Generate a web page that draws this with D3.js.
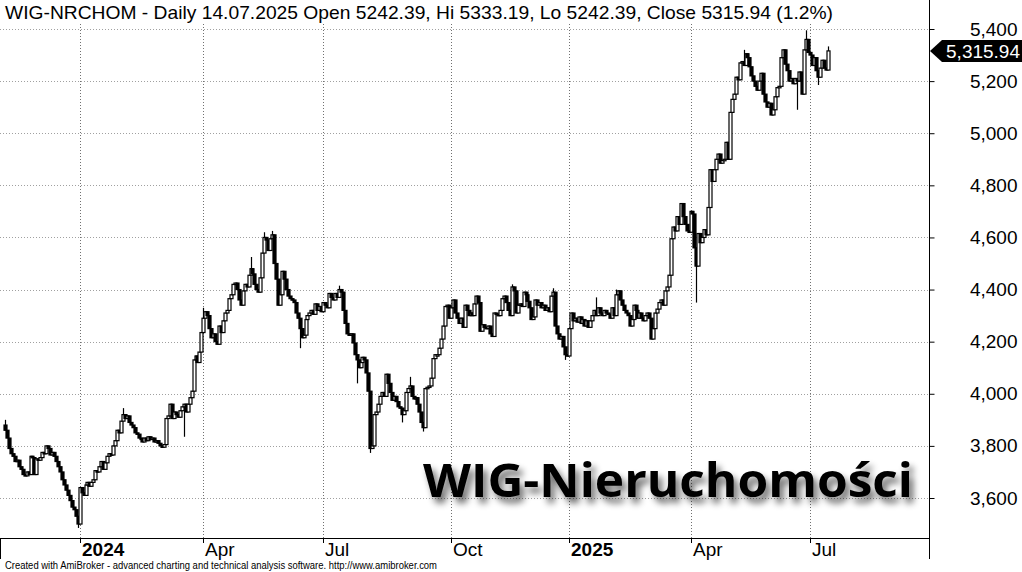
<!DOCTYPE html>
<html>
<head>
<meta charset="utf-8">
<script src="https://cdn.jsdelivr.net/npm/d3@7"></script>
<style>
  body { margin: 0; background: #fff; }
  svg { display: block; font-family: "Liberation Sans", Arial, sans-serif; }
</style>
</head>
<body>
<svg width="1022" height="572"></svg>
<script>
// daily closes, 06.11.2023 - 14.07.2025
var closes = [
  3860, 3830, 3790, 3770, 3760, 3740, 3745, 3720, 3710, 3690,
  3685, 3700, 3690, 3760, 3755, 3690, 3750, 3745, 3755, 3775,
  3770, 3800, 3790, 3765, 3775, 3760, 3740, 3720, 3700, 3670,
  3650, 3630, 3610, 3590, 3565, 3555, 3530, 3500, 3640,
  3620, 3610, 3650, 3660, 3645, 3660, 3670, 3705, 3700, 3720,
  3740, 3710, 3735, 3760, 3770, 3765, 3800, 3820, 3860, 3850,
  3895, 3920, 3905, 3915, 3890, 3880, 3870, 3850, 3845, 3830,
  3825, 3815, 3830, 3820, 3835, 3825, 3830, 3815, 3820, 3810,
  3800, 3795, 3805, 3905, 3915, 3960, 3905, 3930, 3920, 3910,
  3935, 3950, 3960, 3930, 3960, 3985, 4010, 4130, 4145, 4120,
  4160, 4235, 4290, 4315, 4300, 4250, 4215, 4230, 4200, 4190,
  4260, 4235, 4280, 4310, 4320, 4365, 4380, 4420, 4425, 4400,
  4360, 4340, 4395, 4420, 4410, 4455, 4480, 4460, 4420, 4400,
  4390, 4445, 4540, 4600, 4590, 4550, 4595, 4610, 4500, 4440,
  4340, 4380, 4470, 4440, 4400, 4375, 4365, 4360, 4350, 4310,
  4290, 4250, 4215, 4225, 4285, 4300, 4310, 4320, 4305, 4345,
  4320, 4335, 4315, 4350, 4340, 4330, 4385, 4370, 4360, 4385,
  4370, 4400, 4390, 4320, 4270, 4230, 4225, 4230, 4195, 4150,
  4130, 4100, 4120, 4140, 4130, 4080, 4010, 3790, 3800, 3920,
  3930, 3960, 3990, 4005, 3990, 4075, 4040, 4005, 3975, 3990,
  3970, 3950, 3945, 3920, 3935, 4005, 4020, 4030, 3990, 3980,
  3985, 3960, 3930, 3890, 3870, 4020, 4025, 4030, 4060, 4135,
  4150, 4150, 4175, 4210, 4260, 4335, 4340, 4290, 4330, 4360,
  4310, 4290, 4270, 4290, 4255, 4340, 4320, 4300, 4310, 4300,
  4345, 4375, 4350, 4240, 4265, 4255, 4250, 4260, 4230, 4220,
  4310, 4305, 4300, 4320, 4365, 4375, 4350, 4320, 4300, 4410,
  4395, 4310, 4340, 4345, 4335, 4390, 4380, 4355, 4330, 4285,
  4295, 4360, 4340, 4350, 4330, 4340, 4320, 4330, 4315, 4375,
  4390, 4260, 4230, 4210, 4220, 4180, 4150, 4145, 4250, 4310,
  4280, 4290, 4275, 4295, 4270, 4285, 4260, 4280, 4255, 4280,
  4300, 4320, 4300, 4330, 4310, 4300, 4320, 4310, 4305, 4290,
  4330, 4300, 4380, 4395, 4360, 4340, 4320, 4310, 4300, 4260,
  4285, 4340, 4320, 4290, 4310, 4290, 4280, 4300, 4310, 4290,
  4210, 4250, 4310, 4325, 4350, 4360, 4340, 4395, 4410, 4455,
  4595, 4640, 4625, 4680, 4650, 4730, 4680, 4650, 4625, 4620,
  4700, 4690, 4560, 4490, 4615, 4580, 4600, 4630, 4610, 4715,
  4860, 4815, 4860, 4900, 4920, 4885, 4895, 4900, 4965, 4900,
  5080, 5130, 5150, 5215, 5205, 5270, 5275, 5260, 5305, 5290,
  5255, 5220, 5200, 5180, 5165, 5200, 5230, 5150, 5120, 5100,
  5115, 5070, 5090, 5140, 5175, 5180, 5290, 5320, 5265, 5240,
  5200, 5210, 5190, 5210, 5200, 5235, 5200, 5150, 5320, 5360,
  5310, 5300, 5260, 5290, 5240, 5215, 5250, 5280, 5250, 5242.39,
  5315.94
];
var firstOpen = 3880;

// longer wicks: [day index, high, low]
var wicks = [
  [0, 3900, null], [37, null, 3485], [60, 3945, null], [91, null, 3835],
  [101, 4330, null], [125, 4525, null], [132, 4620, null], [136, 4625, null],
  [150, null, 4175], [170, 4415, null], [179, null, 4040], [186, null, 3773],
  [202, null, 3890], [206, 4065, null], [213, null, 3855], [258, 4420, null],
  [279, 4405, null], [285, null, 4130], [301, 4370, null], [311, 4400, null],
  [352, 4530, 4350], [376, 5320, null], [403, null, 5090], [408, 5395, null],
  [414, null, 5185], [419, 5333.19, 5242.39]
];

var holidays = [
  "2023-11-01", "2023-12-25", "2023-12-26",
  "2024-01-01", "2024-03-29", "2024-04-01", "2024-05-01", "2024-05-03",
  "2024-05-30", "2024-08-15", "2024-11-01", "2024-11-11", "2024-12-24",
  "2024-12-25", "2024-12-26", "2024-12-31",
  "2025-01-01", "2025-01-06", "2025-04-18", "2025-04-21", "2025-05-01",
  "2025-06-19"
];

var priceTicks = [3600, 3800, 4000, 4200, 4400, 4600, 4800, 5000, 5200, 5400];
var quarterLabels = {0: "", 3: "Apr", 6: "Jul", 9: "Oct"};

var title = "WIG-NRCHOM - Daily 14.07.2025 Open 5242.39, Hi 5333.19, Lo 5242.39, Close 5315.94 (1.2%)";

// trading days
var fmt = d3.timeFormat("%Y-%m-%d");
var dates = d3.timeDay.range(new Date(2023, 10, 6), new Date(2025, 6, 15))
    .filter(d => d.getDay() != 0 && d.getDay() != 6 && holidays.indexOf(fmt(d)) < 0);
dates = dates.slice(dates.length - closes.length);

var candles = closes.map((c, i) => {
    var o = i == 0 ? firstOpen : closes[i - 1];
    return {i: i, date: dates[i], o: o, c: c, h: Math.max(o, c), l: Math.min(o, c)};
});
wicks.forEach(w => {
    var d = candles[w[0]];
    if (w[1] != null) d.h = Math.max(d.h, w[1]);
    if (w[2] != null) d.l = Math.min(d.l, w[2]);
});

var x = d3.scaleLinear().domain([0, closes.length - 1]).range([5, 828]);
var y = d3.scaleLinear().domain([3600, 5400]).range([498, 29]);

var svg = d3.select("svg");

var defs = svg.append("defs");
var f = defs.append("filter").attr("id", "shadow")
    .attr("x", "-10%").attr("y", "-30%").attr("width", "120%").attr("height", "170%");
f.append("feGaussianBlur").attr("in", "SourceAlpha").attr("stdDeviation", 3.5).attr("result", "b");
f.append("feOffset").attr("in", "b").attr("dx", 4).attr("dy", 6).attr("result", "o");
f.append("feComponentTransfer").attr("in", "o").attr("result", "s")
  .append("feFuncA").attr("type", "linear").attr("slope", 0.6);
var m = f.append("feMerge");
m.append("feMergeNode").attr("in", "s");
m.append("feMergeNode").attr("in", "SourceGraphic");

// grid
svg.append("g").selectAll("line").data(priceTicks).join("line")
    .attr("x1", 0).attr("x2", 929)
    .attr("y1", d => Math.round(y(d)) + 0.5).attr("y2", d => Math.round(y(d)) + 0.5)
    .attr("stroke", "#a0a0a0").attr("stroke-dasharray", "1,2");

var quarters = candles.filter((d, i) => i > 0 && d.date.getMonth() != candles[i - 1].date.getMonth()
    && d.date.getMonth() % 3 == 0);

svg.append("g").selectAll("line").data(quarters).join("line")
    .attr("x1", d => Math.round(x(d.i)) + 0.5).attr("x2", d => Math.round(x(d.i)) + 0.5)
    .attr("y1", 24).attr("y2", 538)
    .attr("stroke", "#707070").attr("stroke-dasharray", "1,2");

// watermark
svg.append("text")
    .attr("x", 423).attr("y", 497)
    .attr("font-family", "'Open Sans', 'Noto Sans', sans-serif")
    .attr("font-weight", 700).attr("font-size", 46)
    .attr("textLength", 490).attr("lengthAdjust", "spacingAndGlyphs")
    .attr("filter", "url(#shadow)")
    .text("WIG-Nieruchomości");

// candles
var g = svg.append("g");
g.selectAll("line").data(candles).join("line")
    .attr("x1", d => Math.round(x(d.i)) + 0.5).attr("x2", d => Math.round(x(d.i)) + 0.5)
    .attr("y1", d => y(d.h)).attr("y2", d => y(d.l))
    .attr("stroke", "#000").attr("stroke-width", 1.2);
g.selectAll("rect").data(candles).join("rect")
    .attr("x", d => Math.round(x(d.i)) - 1)
    .attr("width", 3)
    .attr("y", d => y(Math.max(d.o, d.c)))
    .attr("height", d => Math.max(1.5, y(Math.min(d.o, d.c)) - y(Math.max(d.o, d.c))))
    .attr("fill", d => d.c >= d.o ? "#fff" : "#000")
    .attr("stroke", "#000").attr("stroke-width", 1.2);

// axes
svg.append("line").attr("x1", 929.5).attr("x2", 929.5).attr("y1", 0).attr("y2", 559).attr("stroke", "#000");
svg.append("line").attr("x1", 0).attr("x2", 929).attr("y1", 538.5).attr("y2", 538.5).attr("stroke", "#000");
svg.append("line").attr("x1", 0.5).attr("x2", 0.5).attr("y1", 538).attr("y2", 559).attr("stroke", "#000");

var yAxis = d3.axisRight(y).tickValues(priceTicks).tickSize(5).tickFormat(d3.format(","));
var ya = svg.append("g")
    .attr("transform", "translate(929.5, 0)")
    .call(yAxis);
ya.select(".domain").remove();
ya.selectAll("text").attr("x", 88).attr("text-anchor", "end")
    .attr("font-size", 19).attr("font-family", "'Liberation Sans', Arial, sans-serif").attr("fill", "#000");

var xa = svg.append("g");
xa.selectAll("line").data(quarters).join("line")
    .attr("x1", d => Math.round(x(d.i)) + 0.5).attr("x2", d => Math.round(x(d.i)) + 0.5)
    .attr("y1", 539).attr("y2", 543).attr("stroke", "#000");
xa.selectAll("text").data(quarters).join("text")
    .attr("x", d => Math.round(x(d.i)) + 2)
    .attr("y", 556)
    .attr("font-size", 19)
    .attr("font-weight", d => d.date.getMonth() == 0 ? "bold" : "normal")
    .text(d => d.date.getMonth() == 0 ? d.date.getFullYear() : quarterLabels[d.date.getMonth()]);

// last close marker
var yc = y(closes[closes.length - 1]);
svg.append("path")
    .attr("d", "M930," + yc + " L942," + (yc - 11) + " L1022," + (yc - 11) + " L1022," + (yc + 11) + " L942," + (yc + 11) + " Z")
    .attr("fill", "#000");
svg.append("text")
    .attr("x", 1020).attr("y", yc + 7)
    .attr("text-anchor", "end").attr("font-size", 19).attr("fill", "#fff")
    .text(d3.format(",.2f")(closes[closes.length - 1]));

// title
svg.append("rect").attr("x", 0).attr("y", 0).attr("width", 840).attr("height", 24).attr("fill", "#fff");
svg.append("text")
    .attr("x", 5).attr("y", 19)
    .attr("font-size", 19)
    .attr("textLength", 828).attr("lengthAdjust", "spacingAndGlyphs")
    .text(title);

svg.append("text")
    .attr("x", 5).attr("y", 569)
    .attr("font-size", 10)
    .attr("textLength", 432).attr("lengthAdjust", "spacingAndGlyphs")
    .text("Created with AmiBroker - advanced charting and technical analysis software. http://www.amibroker.com");
</script>
</body>
</html>
